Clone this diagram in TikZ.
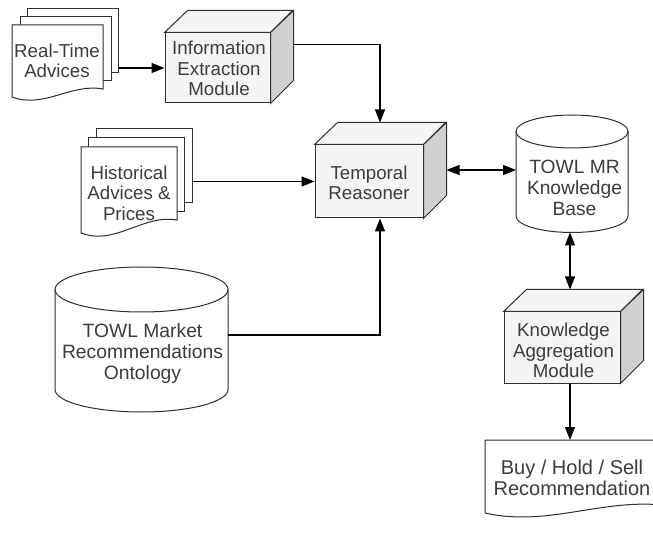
\documentclass[tikz,border=0pt]{standalone}
\usepackage{fontspec}
\setmainfont{Liberation Sans}
\usetikzlibrary{arrows.meta,calc}
\definecolor{txt}{HTML}{3C3C3C}
\definecolor{edge}{HTML}{2E2E2E}
\definecolor{cubefront}{HTML}{F5F5F5}
\definecolor{cubeside}{HTML}{D0D0D0}
\begin{document}
\begin{tikzpicture}[x=1pt,y=-1pt,
 lbl/.style={font=\fontsize{18.7}{20.5}\selectfont, text=txt, align=center, inner sep=0pt},
 shp/.style={draw=edge, line width=1pt, fill=white},
 cubeface/.style={draw=edge, line width=1pt, fill=cubefront, inner sep=0pt},
 conn/.style={draw=black, line width=1.1pt},
 arr/.style={conn, -{Triangle[length=13pt,width=10pt]}},
 darr/.style={conn, {Triangle[length=13pt,width=10pt]}-{Triangle[length=13pt,width=10pt]}},
 pagebox/.style={shp, inner sep=0pt}]
\clip (0,0) rectangle (653,534);
\fill[white] (0,0) rectangle (653,534);

% Real-Time Advices (multi-document)
\node[pagebox, minimum width=91pt, minimum height=64pt] (rt3) at (72.5,41) {};
\node[pagebox, minimum width=91pt, minimum height=64pt] (rt2) at (65.5,49) {};
\draw[shp] (12,25) -- (103,25) -- (103,89) .. controls (71,83) and (44,109) .. (12,97) -- cycle;
\node[lbl] (rt) at (57,61) {Real-Time\\Advices};

% Information Extraction Module (cube)
\node[cubeface, minimum width=105pt, minimum height=70pt] (info) at (217.5,68) {};
\draw[shp, fill=cubefront] (info.north west) -- ++(23,-22) -- ++(105,0) -- (info.north east) -- cycle;
\draw[shp, fill=cubeside] (info.north east) -- ++(23,-22) -- ++(0,70) -- (info.south east) -- cycle;
\node[lbl] (infot) at (219,68.5) {Information\\Extraction\\Module};

% Historical Advices & Prices (multi-document)
\node[pagebox, minimum width=96pt, minimum height=74pt] (h3) at (144,166) {};
\node[pagebox, minimum width=96pt, minimum height=74pt] (h2) at (136,175) {};
\draw[shp] (81,147) -- (177,147) -- (177,220) .. controls (143,214) and (115,246) .. (81,233) -- cycle;
\node[lbl] (hist) at (129,193) {Historical\\Advices \&\\Prices};

% Temporal Reasoner (cube)
\node[cubeface, minimum width=108pt, minimum height=73pt] (temp) at (369,181.5) {};
\draw[shp, fill=cubefront] (temp.north west) -- ++(23,-22) -- ++(108,0) -- (temp.north east) -- cycle;
\draw[shp, fill=cubeside] (temp.north east) -- ++(23,-22) -- ++(0,73) -- (temp.south east) -- cycle;
\node[lbl] (tempt) at (369,183) {Temporal\\Reasoner};

% TOWL MR Knowledge Base (cylinder)
\draw[shp] (516,131.5) -- (516,216) arc[start angle=180, end angle=0, x radius=56, y radius=16.5]
  -- (628,131.5) arc[start angle=0, end angle=-180, x radius=56, y radius=16.5] -- cycle;
\draw[shp, fill=none] (516,131.5) arc[start angle=180, end angle=0, x radius=56, y radius=16.5];
\node[lbl, font=\fontsize{19.2}{21}\selectfont] (kb) at (574.5,188) {TOWL MR\\Knowledge\\Base};

% TOWL Market Recommendations Ontology (cylinder)
\draw[shp] (55,289.5) -- (55,389.5) arc[start angle=180, end angle=0, x radius=86.5, y radius=22.5]
  -- (228,289.5) arc[start angle=0, end angle=-180, x radius=86.5, y radius=22.5] -- cycle;
\draw[shp, fill=none] (55,289.5) arc[start angle=180, end angle=0, x radius=86.5, y radius=22.5];
\node[lbl, font=\fontsize{19.3}{21}\selectfont] (onto) at (142.5,354) {TOWL Market\\Recommendations\\Ontology};

% Knowledge Aggregation Module (cube)
\node[cubeface, minimum width=116pt, minimum height=71pt] (ka) at (562,347.5) {};
\draw[shp, fill=cubefront] (ka.north west) -- ++(23,-22) -- ++(116,0) -- (ka.north east) -- cycle;
\draw[shp, fill=cubeside] (ka.north east) -- ++(23,-22) -- ++(0,71) -- (ka.south east) -- cycle;
\node[lbl] (kat) at (563.5,350.5) {Knowledge\\Aggregation\\Module};

% Buy / Hold / Sell Recommendation (document)
\draw[shp] (485,440) -- (662,440) -- (662,505) .. controls (600,499) and (547,527) .. (485,513) -- cycle;
\node[lbl, font=\fontsize{20}{20.5}\selectfont] (buy) at (572,478) {Buy / Hold / Sell\\Recommendation};

% connector end points
\coordinate (infoR) at ($(info.north east)+(23,12)$);
\coordinate (tempTop) at ($(temp.north)+(11,-22)$);
\coordinate (tempR) at ($(temp.east)+(23,-11.5)$);
\coordinate (kbL) at (516,170);
\coordinate (kbB) at (570,232.5);
\coordinate (ontoR) at (228,335);
\coordinate (kaTop) at ($(ka.north)+(8,-22)$);
\coordinate (buyTop) at (570,440);

% connectors
\draw[arr] (rt3.east |- info.west) -- (info.west);
\draw[arr] (infoR) -| (tempTop);
\draw[arr] (h3.east |- temp.west) -- (temp.west);
\draw[arr] (ontoR) -| ([xshift=11pt]temp.south);
\draw[darr] (tempR) -- (kbL);
\draw[darr] (kbB) -- (kaTop);
\draw[arr] ([xshift=8pt]ka.south) -- (buyTop);
\end{tikzpicture}
\end{document}
